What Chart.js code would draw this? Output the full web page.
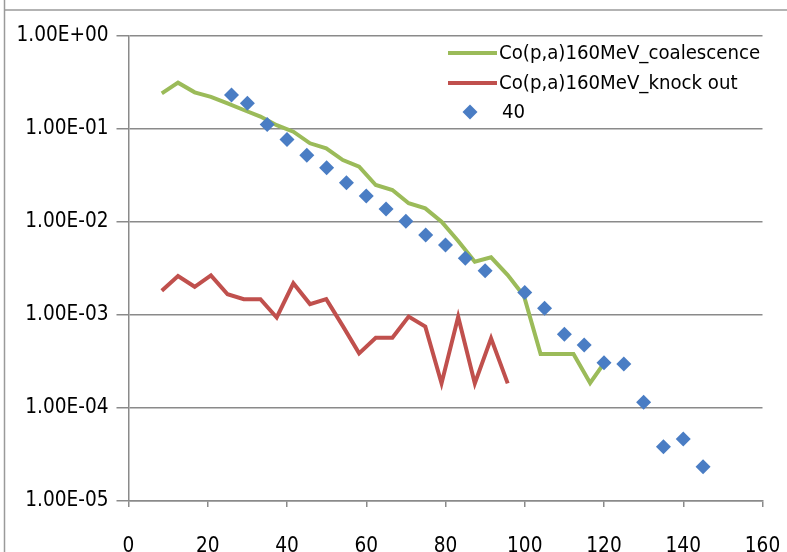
<!DOCTYPE html>
<html><head><meta charset="utf-8">
<script src="https://cdn.jsdelivr.net/npm/chart.js@4/dist/chart.umd.min.js"></script>
<style>html,body{margin:0;padding:0;background:#fff}#wrap{width:787px;height:552px;position:relative}</style>
</head><body><div id="wrap"><canvas id="c"></canvas></div>
<script>
const seriesNames = ['Co(p,a)160MeV_coalescence', 'Co(p,a)160MeV_knock out', '40'];
const coalX = [8.4, 12.5, 16.7, 20.8, 25.0, 29.1, 33.3, 37.4, 41.6, 45.8, 49.9, 54.1, 58.2, 62.4, 66.6, 70.7, 74.9, 79.0, 83.2, 87.4, 91.5, 95.7, 99.8, 104.0, 108.2, 112.3, 116.5, 120.6];
const coalY = [0.242, 0.315, 0.248, 0.222, 0.189, 0.160, 0.136, 0.110, 0.0935, 0.0702, 0.0620, 0.0464, 0.0393, 0.0250, 0.0221, 0.0159, 0.0140, 0.0101, 0.00625, 0.00374, 0.00417, 0.00269, 0.00160, 0.000381, 0.000381, 0.000381, 0.000186, 0.00033];
const knockX = [8.4, 12.5, 16.7, 20.8, 25.0, 29.1, 33.3, 37.4, 41.6, 45.8, 49.9, 54.1, 58.2, 62.4, 66.6, 70.7, 74.9, 79.0, 83.2, 87.4, 91.5, 95.7];
const knockY = [1.82e-3, 2.62e-3, 2.01e-3, 2.67e-3, 1.67e-3, 1.48e-3, 1.48e-3, 9.4e-4, 2.19e-3, 1.31e-3, 1.48e-3, 7.6e-4, 3.87e-4, 5.7e-4, 5.7e-4, 9.6e-4, 7.5e-4, 1.84e-4, 9.6e-4, 1.84e-4, 5.6e-4, 1.84e-4];
const expX = [26, 30, 35, 40, 45, 50, 55, 60, 65, 70, 75, 80, 85, 90, 100, 105, 110, 115, 120, 125, 130, 135, 140, 145];
const expY = [0.232, 0.189, 0.112, 0.0771, 0.0521, 0.0384, 0.0265, 0.0190, 0.0138, 0.0102, 0.00725, 0.00566, 0.00407, 0.00299, 0.00175, 0.00118, 0.000620, 0.000476, 0.000307, 0.000297, 0.000115, 3.84e-5, 4.64e-5, 2.34e-5];
const xTicks = [0, 20, 40, 60, 80, 100, 120, 140, 160];
const yTicks = [1e-5, 1e-4, 1e-3, 1e-2, 1e-1, 1];
const yTickLabels = ['1.00E-05', '1.00E-04', '1.00E-03', '1.00E-02', '1.00E-01', '1.00E+00'];

// pick a narrow font if one is installed, then size text to the reference widths
const mctx = document.createElement('canvas').getContext('2d');
function hasFont(name) {
  const t = '1.00E+00 Co(p,a)160MeV_coalescence';
  mctx.font = '40px monospace'; const a = mctx.measureText(t).width;
  mctx.font = "40px '" + name + "', monospace"; const b = mctx.measureText(t).width;
  return Math.abs(a - b) > 0.5;
}
const candidates = ['Liberation Sans Narrow', 'DejaVu Sans Condensed', 'Roboto Condensed', 'Noto Sans Condensed', 'Liberation Sans'];
const FONT = "'" + (candidates.find(hasFont) || 'Liberation Sans') + "', sans-serif";
function fitSize(text, targetW, maxSize) {
  mctx.font = '100px ' + FONT;
  return Math.min(maxSize, Math.round(targetW * 100 / mctx.measureText(text).width * 10) / 10);
}
const TICK_SIZE = fitSize('1.00E+00', 92, 26);
const LEG_SIZE = fitSize('Co(p,a)160MeV_coalescence', 261, 24);

const GREEN = '#9BBB59', RED = '#C0504D', BLUE = '#4A7DC4', GRID = '#8a8a8a';
const toPts = (xs, ys) => xs.map((x, i) => ({x: x, y: ys[i]}));

const framePlugin = {
  id: 'frame',
  beforeDraw(chart) {
    const ctx = chart.ctx;
    ctx.save();
    ctx.fillStyle = '#fff';
    ctx.fillRect(0, 0, chart.width, chart.height);
    ctx.strokeStyle = '#9a9a9a';
    ctx.lineWidth = 1.5;
    ctx.beginPath();
    ctx.moveTo(4.5, 0); ctx.lineTo(4.5, chart.height);
    ctx.moveTo(4.5, 10); ctx.lineTo(chart.width, 10);
    ctx.stroke();
    ctx.restore();
  }
};

const legendPlugin = {
  id: 'customLegend',
  afterDraw(chart) {
    const ctx = chart.ctx;
    const ds = chart.data.datasets;
    const rows = [53, 83, 112];
    ctx.save();
    ctx.font = LEG_SIZE + 'px ' + FONT;
    ctx.textBaseline = 'middle';
    ds.forEach((d, i) => {
      const y = rows[i];
      if (d.showLine) {
        ctx.strokeStyle = d.borderColor;
        ctx.lineWidth = 4;
        ctx.beginPath(); ctx.moveTo(448, y); ctx.lineTo(497, y); ctx.stroke();
      } else {
        ctx.fillStyle = d.backgroundColor;
        Chart.helpers.drawPoint(ctx, {pointStyle: 'rectRot', radius: 7.5, borderWidth: 0}, 470, y);
      }
      ctx.fillStyle = '#000';
      ctx.fillText(d.label, d.showLine ? 499 : 502, y + 1);
    });
    ctx.restore();
  }
};

new Chart(document.getElementById('c'), {
  type: 'scatter',
  data: {
    datasets: [
      {label: seriesNames[0], data: toPts(coalX, coalY), showLine: true, borderColor: GREEN, backgroundColor: GREEN, borderWidth: 4, pointRadius: 0, tension: 0, order: 1},
      {label: seriesNames[1], data: toPts(knockX, knockY), showLine: true, borderColor: RED, backgroundColor: RED, borderWidth: 4, pointRadius: 0, tension: 0, order: 2},
      {label: seriesNames[2], data: toPts(expX, expY), showLine: false, pointStyle: 'rectRot', pointRadius: 7.5, borderWidth: 0, backgroundColor: BLUE, borderColor: BLUE, order: 0}
    ]
  },
  options: {
    responsive: true,
    maintainAspectRatio: false,
    animation: false,
    devicePixelRatio: 1,
    layout: {padding: {left: 0, top: 36, right: 24.5, bottom: 0}},
    plugins: {legend: {display: false}, tooltip: {enabled: false}},
    scales: {
      x: {
        type: 'linear', min: 0, max: 160,
        afterBuildTicks: s => { s.ticks = xTicks.map(v => ({value: v})); },
        afterFit: s => { s.height = 51; s.paddingLeft = 0; s.paddingRight = 0; },
        grid: {drawOnChartArea: false, drawTicks: true, tickLength: 6, color: GRID, lineWidth: 1.5},
        border: {display: true, color: GRID, width: 1.5},
        ticks: {font: {family: FONT, size: TICK_SIZE}, color: '#000', padding: 27, maxRotation: 0}
      },
      y: {
        type: 'logarithmic', min: 1e-5, max: 1,
        afterBuildTicks: s => { s.ticks = yTicks.map(v => ({value: v})); },
        afterFit: s => { s.width = 128.5; s.paddingTop = 0; s.paddingBottom = 0; },
        grid: {drawOnChartArea: true, drawTicks: true, tickLength: 12, color: GRID, lineWidth: 1.5},
        border: {display: true, color: GRID, width: 1.5},
        ticks: {
          font: {family: FONT, size: TICK_SIZE}, color: '#000', padding: 8,
          callback: v => { const i = yTicks.findIndex(t => Math.abs(Math.log10(t) - Math.log10(v)) < 1e-6); return i >= 0 ? yTickLabels[i] : ''; }
        }
      }
    }
  },
  plugins: [framePlugin, legendPlugin]
});
</script>
</body></html>
